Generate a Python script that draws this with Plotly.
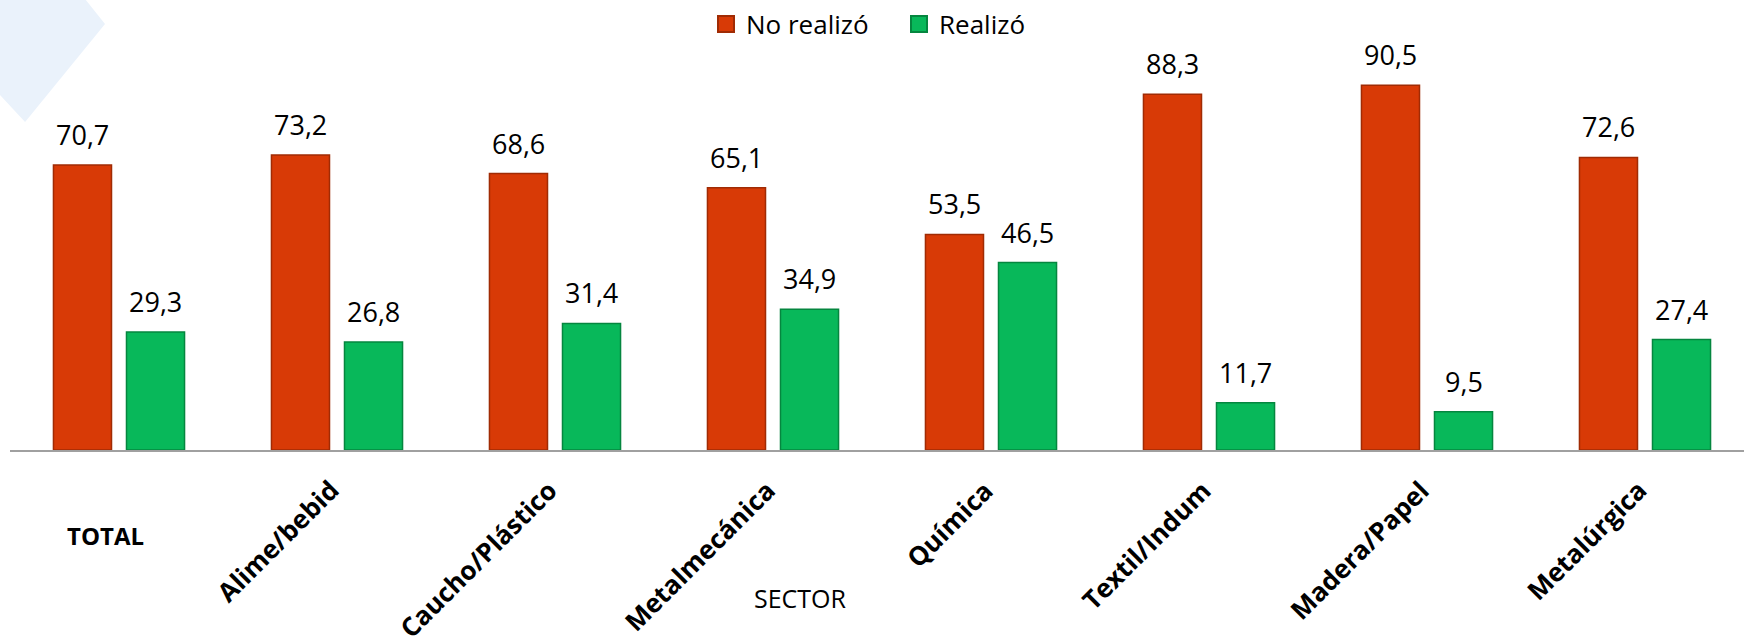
import plotly.graph_objects as go

sectores = ['TOTAL', 'Alime/bebid', 'Caucho/Plástico', 'Metalmecánica',
            'Química', 'Textil/Indum', 'Madera/Papel', 'Metalúrgica']
no_realizo = [70.7, 73.2, 68.6, 65.1, 53.5, 88.3, 90.5, 72.6]
realizo = [29.3, 26.8, 31.4, 34.9, 46.5, 11.7, 9.5, 27.4]

RED = '#D83A06'
RED_EDGE = '#A02B04'
GREEN = '#08B85A'
GREEN_EDGE = '#05863F'
FONT = 'Open Sans'

W, H = 1744, 639
ML, MR, MT, MB = 10, 0, 47, 189
PW = W - ML - MR
PH = H - MT - MB


def px_to_paper(x, y):
    return (x - ML) / PW, (H - MB - y) / PH


def fmt(v):
    return f'{v:.1f}'.replace('.', ',')


fig = go.Figure()
fig.add_trace(go.Bar(x=sectores, y=no_realizo, name='No realizó', showlegend=False,
                     marker=dict(color=RED, line=dict(color=RED_EDGE, width=1.5))))
fig.add_trace(go.Bar(x=sectores, y=realizo, name='Realizó', showlegend=False,
                     marker=dict(color=GREEN, line=dict(color=GREEN_EDGE, width=1.5))))

# legend entries with bigger square swatches
fig.add_trace(go.Scatter(x=[None], y=[None], mode='markers', name='No realizó',
                         marker=dict(symbol='square', size=16, color=RED,
                                     line=dict(color=RED_EDGE, width=2))))
fig.add_trace(go.Scatter(x=[None], y=[None], mode='markers', name='Realizó',
                         marker=dict(symbol='square', size=16, color=GREEN,
                                     line=dict(color=GREEN_EDGE, width=2))))

annotations = []
half_slot = 36.5
for s, a, b in zip(sectores, no_realizo, realizo):
    for v, dx in ((a, -half_slot), (b, half_slot)):
        annotations.append(dict(x=s, y=v, xref='x', yref='y', text=fmt(v),
                                showarrow=False, xshift=dx, yshift=10,
                                yanchor='bottom', xanchor='center',
                                font=dict(family=FONT, size=27, color='black')))

# category labels
for i, s in enumerate(sectores):
    if i == 0:
        annotations.append(dict(x=s, y=0, xref='x', yref='y', text=f'<b>{s}</b>',
                                showarrow=False, xshift=-14, yshift=-85,
                                xanchor='center', yanchor='middle',
                                font=dict(family=FONT, size=24, color='black')))
    else:
        annotations.append(dict(x=s, y=0, xref='x', yref='y', text=f'<b>{s}</b>',
                                showarrow=False, textangle=-45, xshift=12, yshift=-20,
                                xanchor='right', yanchor='top',
                                font=dict(family=FONT, size=26, color='black')))

sx, sy = px_to_paper(800, 598)
annotations.append(dict(x=sx, y=sy, xref='paper', yref='paper', text='SECTOR',
                        showarrow=False, xanchor='center', yanchor='middle',
                        font=dict(family=FONT, size=25, color='black')))

# light blue diamond in the top-left corner
pts = [px_to_paper(x, y) for x, y in [(105, 24), (25, 122), (-60, 30), (30, -70)]]
path = 'M ' + ' L '.join(f'{x:.4f},{y:.4f}' for x, y in pts) + ' Z'

fig.update_layout(
    width=W, height=H,
    margin=dict(l=ML, r=MR, t=MT, b=MB),
    paper_bgcolor='white', plot_bgcolor='white',
    barmode='group', bargap=0.33, bargroupgap=0.205,
    font=dict(family=FONT, color='black'),
    xaxis=dict(type='category', range=[-0.5, 7.5 - ML / 218], showticklabels=False,
               showgrid=False, showline=True, linecolor='#A0A0A0', linewidth=2,
               ticks='', zeroline=False),
    yaxis=dict(range=[0, 100], visible=False),
    legend=dict(orientation='h', x=0.5127, xanchor='center', y=1.115, yanchor='top',
                font=dict(family=FONT, size=26, color='black'),
                bgcolor='rgba(0,0,0,0)', entrywidth=148, entrywidthmode='pixels'),
    annotations=annotations,
    shapes=[dict(type='path', path=path, xref='paper', yref='paper',
                 fillcolor='#EAF2FB', line=dict(width=0), layer='below')],
)

fig.write_html('out.html', config={'displayModeBar': False},
               post_script="document.body.style.margin='0';document.body.style.overflow='hidden';")
